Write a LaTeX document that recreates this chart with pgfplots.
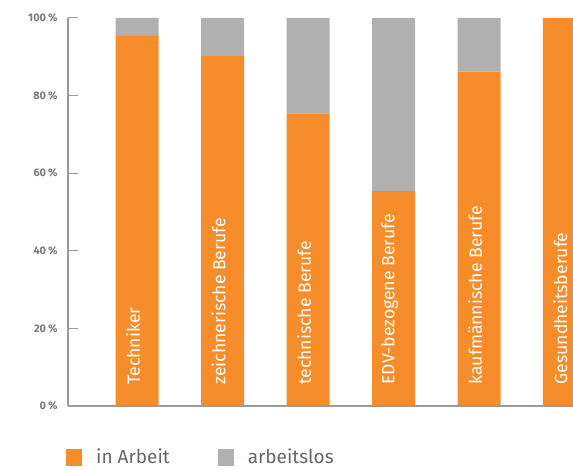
\documentclass[border=0pt]{standalone}
\usepackage{fontspec}
\setmainfont{Fira Sans}
\usepackage{pgfplots}
\pgfplotsset{compat=1.18}
\definecolor{orangeA}{HTML}{F68D2A}
\definecolor{grayA}{HTML}{AFB0AF}
\definecolor{axgray}{HTML}{9A9A9A}
\definecolor{tickgray}{HTML}{7A7A7A}
\definecolor{leggray}{HTML}{666666}
\begin{document}
\begin{tikzpicture}
\useasboundingbox (0,0) rectangle (573pt,469pt);
\begin{axis}[
  at={(68pt,63pt)}, anchor=south west,
  scale only axis, width=505pt, height=388pt,
  ybar stacked, bar width=43pt,
  xmin=-0.81, xmax=5.1, ymin=0, ymax=100,
  axis on top,
  axis lines=left,
  axis line style={-, axgray, line width=1.3pt},
  xtick={0,1,2,3,4,5},
  xticklabels={Techniker, zeichnerische Berufe, technische Berufe, EDV-bezogene Berufe, kaufmännische Berufe, Gesundheitsberufe},
  x tick style={draw=none},
  xticklabel style={xshift=-4pt, rotate=90, anchor=west, text=white, font=\fontsize{17.6}{19}\selectfont},
  xticklabel shift=-18pt,
  ytick={0,20,40,60,80,100},
  yticklabels={0\,\%,20\,\%,40\,\%,60\,\%,80\,\%,100\,\%},
  y tick style={axgray, line width=1pt},
  major tick length=10pt, tick align=inside,
  yticklabel style={text=tickgray, font=\bfseries\fontsize{11}{12}\selectfont, xshift=-7pt},
  /pgf/number format/assume math mode=true,
  legend style={at={(axis description cs:-0.004,-0.132)}, anchor=west, draw=none, fill=none, inner sep=0pt,
    font=\fontsize{19}{21}\selectfont, text=leggray,
    /tikz/every even column/.append style={column sep=46pt}},
  legend columns=2,
  legend image code/.code={\fill[#1] (0pt,-8.5pt) rectangle (16pt,8.5pt); \path (16pt,0pt) -- (28pt,0pt);},
]
\addplot[fill=orangeA, draw=none] coordinates {(0,95.4) (1,90.2) (2,75.4) (3,55.4) (4,86.2) (5,100)};
\addplot[fill=grayA, draw=none] coordinates {(0,4.6) (1,9.8) (2,24.6) (3,44.6) (4,13.8) (5,0)};
\legend{in Arbeit, arbeitslos}
\end{axis}
\end{tikzpicture}
\end{document}
